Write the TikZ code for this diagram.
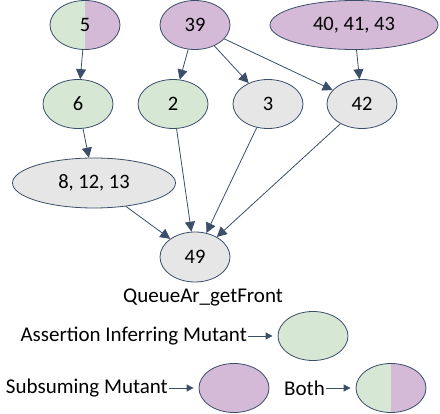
\documentclass[tikz,border=0pt]{standalone}
\usepackage{fontspec}
\setmainfont{Carlito}
\usepackage{tikz}
\usetikzlibrary{shapes.geometric,arrows.meta}
\definecolor{edgeblue}{RGB}{59,78,106}
\definecolor{aimgreen}{RGB}{214,232,212}
\definecolor{subpurple}{RGB}{213,186,216}
\definecolor{plaingray}{RGB}{230,230,230}
\tikzset{
    mutant-node/.style = {draw=edgeblue, ellipse, thick, inner sep=0pt, minimum width=70pt, minimum height=49pt, font=\fontsize{20.5}{24}\selectfont},
    aim-node/.style = {mutant-node, fill=aimgreen},
    sub-node/.style = {mutant-node, fill=subpurple},
    plain-node/.style = {mutant-node, fill=plaingray},
    both-node/.style = {mutant-node, path picture={
        \fill[aimgreen] (path picture bounding box.south west) rectangle (path picture bounding box.north);
        \fill[subpurple] (path picture bounding box.south) rectangle (path picture bounding box.north east);}},
    sub-edge/.style = {draw=edgeblue, thick, -{Triangle[length=10pt,width=10pt]}},
    key-edge/.style = {draw=edgeblue, thick, -{Triangle[length=7pt,width=7pt]}, shorten >=5pt},
    legend-text/.style = {inner sep=1pt, font=\fontsize{21}{25}\selectfont},
}

\begin{document}
\begin{tikzpicture}[x=1pt, y=-1pt]
\useasboundingbox (0,0) rectangle (440,414);
% mutants
\node [both-node] (m5) at (85,25) {5};
\node [sub-node] (m39) at (195,25) {39};
\node [sub-node, minimum width=168pt] (m40) at (354,25) {40, 41, 43};
\node [aim-node] (m6) at (78,104) {6};
\node [aim-node] (m2) at (173,104) {2};
\node [plain-node] (m3) at (268,104) {3};
\node [plain-node] (m42) at (362,104) {42};
\node [plain-node, minimum width=163pt, minimum height=50pt] (m8) at (94,183) {8, 12, 13};
\node [plain-node, minimum height=50pt] (m49) at (195,257) {49};
\node [legend-text] (title) at (203,297) {QueueAr\_getFront};

\draw [sub-edge] (m5) -- (m6);
\draw [sub-edge] (m39) -- (m2);
\draw [sub-edge] (m39) -- (m3);
\draw [sub-edge] (m39) -- (m42);
\draw [sub-edge] (m40) -- (m42);
\draw [sub-edge] (m6) -- (m8);
\draw [sub-edge] (m8) -- (m49);
\draw [sub-edge] (m2) -- (m49);
\draw [sub-edge] (m3) -- (m49);
\draw [sub-edge] (m42) -- (m49);

% legend
\node [aim-node] (key-aim) at (313,336) {};
\node [sub-node] (key-sub) at (234,388) {};
\node [both-node] (key-both) at (391,388) {};
\node [legend-text, anchor=east] (text-aim) at (248,336) {Assertion Inferring Mutant};
\node [legend-text, anchor=east] (text-sub) at (169,388) {Subsuming Mutant};
\node [legend-text, anchor=east] (text-both) at (326,388) {Both};
\draw [key-edge] (text-aim) -- (key-aim);
\draw [key-edge] (text-sub) -- (key-sub);
\draw [key-edge] (text-both) -- (key-both);
\end{tikzpicture}
\end{document}
